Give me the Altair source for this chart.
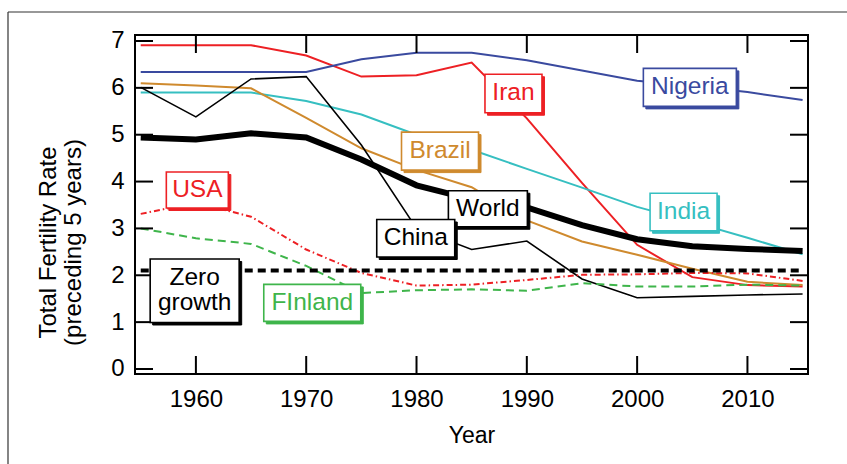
import altair as alt
import pandas as pd

# ---------------- data ----------------
years = [1955, 1960, 1965, 1970, 1975, 1980, 1985, 1990, 1995, 2000, 2005, 2010, 2015]
iran = [6.91, 6.91, 6.91, 6.69, 6.24, 6.27, 6.54, 5.35, 3.97, 2.65, 1.96, 1.79, 1.76]
nigeria = [6.34, 6.34, 6.34, 6.34, 6.61, 6.75, 6.75, 6.59, 6.37, 6.15, 6.04, 5.91, 5.74]
india = [5.90, 5.90, 5.90, 5.72, 5.43, 5.00, 4.68, 4.27, 3.87, 3.46, 3.14, 2.80, 2.45]
brazil = [6.10, 6.05, 5.99, 5.36, 4.71, 4.25, 3.88, 3.17, 2.72, 2.44, 2.14, 1.86, 1.79]
china = [6.01, 5.38, 6.19, 6.24, 4.78, 3.00, 2.55, 2.73, 1.92, 1.52, 1.55, 1.58, 1.60]
world = [4.94, 4.90, 5.03, 4.94, 4.47, 3.92, 3.62, 3.45, 3.07, 2.77, 2.62, 2.56, 2.52]
usa = [3.31, 3.55, 3.25, 2.55, 2.05, 1.78, 1.80, 1.90, 2.01, 2.02, 2.05, 2.04, 1.88]
finland = [3.00, 2.79, 2.67, 2.20, 1.62, 1.68, 1.70, 1.67, 1.83, 1.76, 1.76, 1.80, 1.78]
zero_years = [1955, 2015]
zero_vals = [2.1, 2.1]

x_ticks = [1960, 1970, 1980, 1990, 2000, 2010]
y_ticks = [0, 1, 2, 3, 4, 5, 6, 7]

label_text = ["USA", "Iran", "Brazil", "World", "China", "Nigeria", "India", "FInland", "Zero\ngrowth"]
label_year = [1960.13, 1988.79, 1982.13, 1986.47, 1979.93, 2004.78, 2004.21, 1970.55, 1959.89]
label_value = [3.82, 5.88, 4.65, 3.42, 2.79, 6.01, 3.35, 1.41, 1.67]

# ---------------- styles ----------------
RED = "#ed2024"
BLUE = "#3a4a9f"
CYAN = "#36bfc1"
ORANGE = "#cf8a2e"
GREEN = "#3fb54b"
FONT = "Liberation Sans"

W, H = 673, 339
xscale = alt.Scale(domain=[1954.48, 2015.49], nice=False, zero=False)
yscale = alt.Scale(domain=[-0.107, 7.128], nice=False, zero=False)

x_axis = alt.Axis(values=x_ticks, format="d", ticks=False, tickSize=0, domain=False, grid=False,
                  labelFont=FONT, labelFontSize=24, labelColor="black", labelPadding=13,
                  title="Year", titleFont=FONT, titleFontSize=23, titleFontWeight="normal",
                  titleColor="black", titleBaseline="alphabetic", titleY=68)
y_axis = alt.Axis(values=y_ticks, format="d", ticks=False, tickSize=0, domain=False, grid=False,
                  labelFont=FONT, labelFontSize=24, labelColor="black", labelPadding=11,
                  title=["Total Fertility Rate", "(preceding 5 years)"], titleFont=FONT,
                  titleFontSize=24, titleFontWeight="normal", titleColor="black",
                  titleAngle=270, titleAlign="center", titleBaseline="middle",
                  titleLineHeight=25, titleX=-87, titleY=207)


def X(field):
    return alt.X(field, scale=xscale, axis=x_axis)


def Y(field):
    return alt.Y(field, scale=yscale, axis=y_axis)


def series_df(vals):
    return pd.DataFrame({"year": years, "value": vals})


def line_layer(df, color, width, dash=None):
    kw = dict(color=color, strokeWidth=width)
    if dash:
        kw["strokeDash"] = dash
    return alt.Chart(df).mark_line(**kw).encode(x=X("year:Q"), y=Y("value:Q"))


layers = []
layers.append(line_layer(series_df(iran), RED, 2))
layers.append(line_layer(series_df(nigeria), BLUE, 2))
layers.append(line_layer(series_df(india), CYAN, 2))
layers.append(line_layer(series_df(brazil), ORANGE, 2))
layers.append(line_layer(series_df(china), "black", 1.6))
layers.append(line_layer(series_df(usa), RED, 2, dash=[6, 3, 1.5, 3]))
layers.append(line_layer(series_df(finland), GREEN, 2, dash=[8, 5]))
layers.append(line_layer(pd.DataFrame({"year": zero_years, "value": zero_vals}), "black", 4, dash=[8, 5]))
layers.append(line_layer(series_df(world), "black", 6))

# inward ticks on all four sides
xt = pd.DataFrame({"year": x_ticks})
yt = pd.DataFrame({"value": y_ticks})
TICK = 18
for (y1, y2) in [(H - TICK, H), (0, TICK)]:
    layers.append(alt.Chart(xt).mark_rule(color="black", strokeWidth=2).encode(
        x=X("year:Q"), y=alt.value(y1), y2=alt.value(y2)))
for (x1, x2) in [(0, TICK), (W - TICK, W)]:
    layers.append(alt.Chart(yt).mark_rule(color="black", strokeWidth=2).encode(
        y=Y("value:Q"), x=alt.value(x1), x2=alt.value(x2)))

# outer figure frame
one = pd.DataFrame({"a": [0]})
layers.append(alt.Chart(one).mark_rule(color="#333333", strokeWidth=1.2).encode(
    x=alt.value(-127), y=alt.value(-23), y2=alt.value(H + 100)))
layers.append(alt.Chart(one).mark_rule(color="#333333", strokeWidth=1.2).encode(
    x=alt.value(-127), x2=alt.value(W + 60), y=alt.value(-23)))

# label boxes
label_colors = [RED, RED, ORANGE, "black", "black", BLUE, CYAN, GREEN, "black"]
box_w = [62, 57, 77, 79, 78, 93, 67, 97, 89]
box_h = [36, 38.5, 38, 36, 37.5, 38, 37.5, 37, 63.5]
text_dy = [0, 0, 0, 0, 0, 0, 0, 0, -12.5]
for i, txt in enumerate(label_text):
    df = pd.DataFrame({"year": [label_year[i]], "value": [label_value[i]], "t": [txt]})
    w, h, c = box_w[i], box_h[i], label_colors[i]
    r = h / w
    shape = f"M-1,{-r:.4f}H1V{r:.4f}H-1Z"
    enc = dict(x=X("year:Q"), y=Y("value:Q"))
    layers.append(alt.Chart(df).mark_point(shape=shape, size=w * w, filled=True, fill=c, stroke=c,
                                           strokeWidth=1, opacity=1, xOffset=2.5, yOffset=2.5).encode(**enc))
    layers.append(alt.Chart(df).mark_point(shape=shape, size=w * w, filled=True, fill="white", stroke=c,
                                           strokeWidth=1.6, opacity=1).encode(**enc))
    layers.append(alt.Chart(df).mark_text(font=FONT, fontSize=24.5, color=c, align="center",
                                          baseline="middle", lineBreak="\n", lineHeight=25,
                                          dy=text_dy[i]).encode(text="t:N", **enc))

chart = alt.layer(*layers).properties(
    width=W, height=H,
    autosize=alt.AutoSizeParams(type="none"),
    padding={"left": 135, "top": 35, "right": 39, "bottom": 90},
    background="white",
).configure_view(stroke="black", strokeWidth=2)

chart.save("out.html", embed_options={"renderer": "svg", "actions": False})
